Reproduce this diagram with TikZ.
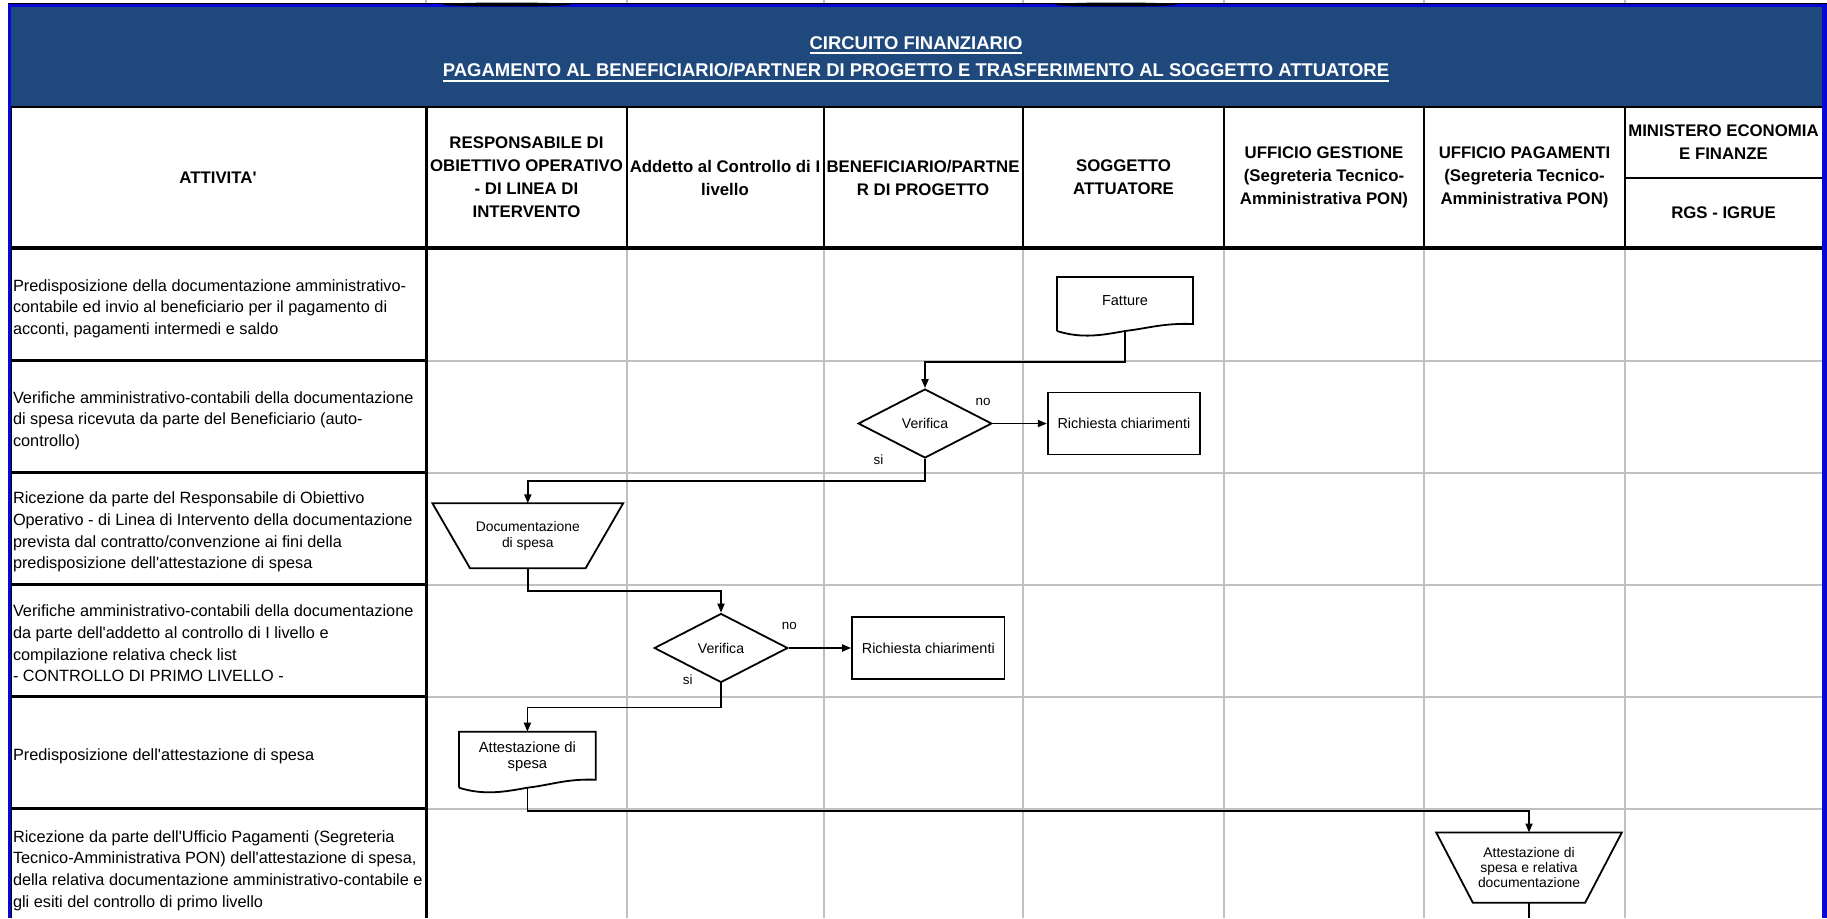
\documentclass[tikz,border=0pt]{standalone}
\usepackage{fontspec}
\setmainfont{Liberation Sans}[Ligatures=TeXOff]
\usetikzlibrary{arrows.meta,shapes.geometric,calc}
\definecolor{band}{RGB}{31,73,125}
\definecolor{edgeblue}{RGB}{8,8,214}
\definecolor{cellgrid}{RGB}{192,192,192}
% underlined title text with a heavier rule than \underline
\newcommand\titleul[1]{\setbox0\hbox{#1}\rlap{\rule[-5pt]{\wd0}{1.9pt}}\box0}

\begin{document}
\begin{tikzpicture}[x=1pt,y=-1pt,
  gridline/.style={draw=cellgrid,line width=2pt},
  blackrule/.style={draw=black,line width=3pt},
  hdr/.style={font=\fontsize{16.8}{23}\selectfont\bfseries,align=center,inner sep=0pt,outer sep=0pt},
  act/.style={font=\fontsize{16.3}{21.6}\selectfont,align=left,anchor=west,inner sep=0pt,outer sep=0pt},
  ttl/.style={font=\fontsize{18.45}{22}\selectfont\bfseries,text=white,anchor=base,inner sep=0pt},
  shapeline/.style={draw=black,line width=1.8pt,line join=miter},
  holder/.style={inner sep=0pt,outer sep=0pt,align=center},
  boxnode/.style={draw=black,line width=1.8pt,fill=white,inner sep=0pt,align=center,
    font=\fontsize{14.4}{17}\selectfont,minimum width=152.5pt,minimum height=62pt},
  decision/.style={diamond,draw=black,line width=1.8pt,fill=white,inner sep=0pt,
    font=\fontsize{14.1}{17}\selectfont,minimum width=133.6pt,minimum height=69pt},
  branch/.style={font=\fontsize{13.4}{15}\selectfont,inner sep=0pt},
  conn/.style={draw=black,line width=1.8pt,-{Triangle[length=9pt,width=7pt]}},
  link/.style={draw=black,line width=1.8pt}
]
\useasboundingbox (0,0) rectangle (1827,918);
\fill[white] (0,0) rectangle (1827,918);

% ---- title band ----
\fill[band] (10,6) rectangle (1822,107);
\foreach \cx in {426,627,823.5,1023,1224,1424,1625}
  \draw[gridline] (\cx,0) -- (\cx,4);
\draw[black,line width=1.5pt] (8,3.5) -- (1827,3.5);
\draw[edgeblue,line width=2.5pt] (8,5.5) -- (1822,5.5);
\fill[black] (507,4.5) ellipse [x radius=64, y radius=2];
\fill[black] (1116,4.5) ellipse [x radius=61, y radius=2];
\draw[black,line width=2pt] (10,107) -- (1822,107);

\node[ttl] (title1) at (916,49.3) {\titleul{CIRCUITO FINANZIARIO}};
\node[ttl] (title2) at (916,76.7) {\titleul{PAGAMENTO AL BENEFICIARIO/PARTNER DI PROGETTO E TRASFERIMENTO AL SOGGETTO ATTUATORE}};

% ---- body grid ----
\foreach \cx in {627,823.5,1023,1224,1424,1625}
  \draw[gridline] (\cx,248) -- (\cx,918);
\foreach \ry in {360.5,472.5,584.5,696.5,808.5}{
  \draw[gridline] (426,\ry) -- (1822,\ry);
  \draw[blackrule] (10,\ry) -- (426,\ry);
}
% ---- header cells ----
\foreach \cx in {627,823.5,1023,1224,1424,1625}
  \draw[black,line width=2pt] (\cx,107) -- (\cx,248);
\draw[blackrule] (426,107) -- (426,918);
\draw[black,line width=2pt] (1625,178) -- (1822,178);
\draw[black,line width=4pt] (10,248) -- (1822,248);

% ---- outer frame ----
\draw[black,line width=1.5pt] (11.5,107) -- (11.5,918);
\draw[edgeblue,line width=3pt] (9.5,4) -- (9.5,918);
\fill[edgeblue] (1822,4) rectangle (1827,918);

% ---- column headings ----
\node[hdr] (hAtt) at (218,177.5) {ATTIVITA'};
\node[hdr] (hResp) at (526.5,177.5) {RESPONSABILE DI\\OBIETTIVO OPERATIVO\\- DI LINEA DI\\INTERVENTO};
\node[hdr] (hAdd) at (725,177.5) {Addetto al Controllo di I\\livello};
\node[hdr] (hBen) at (923,177.5) {BENEFICIARIO/PARTNE\\R DI PROGETTO};
\node[hdr] (hSog) at (1123.5,177.5) {SOGGETTO\\ATTUATORE};
\node[hdr] (hUG) at (1324,177.5) {UFFICIO GESTIONE\\(Segreteria Tecnico-\\Amministrativa PON)};
\node[hdr] (hUP) at (1524.5,177.5) {UFFICIO PAGAMENTI\\(Segreteria Tecnico-\\Amministrativa PON)};
\node[hdr] (hMin) at (1723.5,142.5) {MINISTERO ECONOMIA\\E FINANZE};
\node[hdr] (hRgs) at (1723.5,213) {RGS - IGRUE};

% ---- activities ----
\node[act] (a1) at (13,308.5) {Predisposizione della documentazione amministrativo-\\contabile ed invio al beneficiario per il pagamento di\\acconti, pagamenti intermedi e saldo};
\node[act] (a2) at (13,420.5) {Verifiche amministrativo-contabili della documentazione\\di spesa ricevuta da parte del Beneficiario (auto-\\controllo)};
\node[act] (a3) at (13,532) {Ricezione da parte del Responsabile di Obiettivo\\Operativo - di Linea di Intervento della documentazione\\prevista dal contratto/convenzione ai fini della\\predisposizione dell'attestazione di spesa};
\node[act] (a4) at (13,643.5) {Verifiche amministrativo-contabili della documentazione\\da parte dell'addetto al controllo di I livello e\\compilazione relativa check list\\- CONTROLLO DI PRIMO LIVELLO -};
\node[act] (a5) at (13,756.5) {Predisposizione dell'attestazione di spesa};
\node[act] (a6) at (13,870.5) {Ricezione da parte dell'Ufficio Pagamenti (Segreteria\\Tecnico-Amministrativa PON) dell'attestazione di spesa,\\della relativa documentazione amministrativo-contabile e\\gli esiti del controllo di primo livello};

% ---- flow shapes ----
% document: Fatture
\node[holder,font=\fontsize{14.5}{17}\selectfont,text depth=6pt,
  minimum width=136pt,minimum height=54pt] (fatt) at (1125,304) {Fatture};
\draw[shapeline] (fatt.south west) -- (fatt.north west) -- (fatt.north east)
  -- ($(fatt.south east)+(0,-7)$)
  .. controls ($(fatt.south east)+(-30,-8)$) and ($(fatt.south)+(25,-3)$) .. (fatt.south)
  .. controls ($(fatt.south)+(-22,4)$) and ($(fatt.south west)+(25,8)$) .. (fatt.south west);

\node[decision] (ver1) at (925,423.5) {Verifica};
\node[boxnode] (rc1) at (1124,423.5) {Richiesta chiarimenti};

% manual input: Documentazione di spesa
\node[holder,font=\fontsize{13.85}{16.7}\selectfont,
  minimum width=190.7pt,minimum height=65pt] (doc) at (527.8,535.8) {Documentazione\\di spesa};
\draw[shapeline] (doc.north west) -- (doc.north east) -- ($(doc.south east)+(-37.6,0)$)
  -- ($(doc.south west)+(37.6,0)$) -- cycle;

\node[decision] (ver2) at (721,648) {Verifica};
\node[boxnode] (rc2) at (928.3,648) {Richiesta chiarimenti};

% document: Attestazione di spesa
\node[holder,font=\fontsize{14.8}{15.7}\selectfont,text depth=9.7pt,
  minimum width=136.7pt,minimum height=56pt] (att) at (527.4,759.7) {Attestazione di\\spesa};
\draw[shapeline] (att.south west) -- (att.north west) -- (att.north east)
  -- ($(att.south east)+(0,-8)$)
  .. controls ($(att.south east)+(-30,-9)$) and ($(att.south)+(25,-3)$) .. (att.south)
  .. controls ($(att.south)+(-22,4)$) and ($(att.south west)+(25,8)$) .. (att.south west);

% manual input: Attestazione di spesa e relativa documentazione
\node[holder,font=\fontsize{13.9}{15}\selectfont,
  minimum width=185.6pt,minimum height=70.2pt] (tr) at (1529,867.6) {Attestazione di\\spesa e relativa\\documentazione};
\draw[shapeline] (tr.north west) -- (tr.north east) -- ($(tr.south east)+(-36.65,0)$)
  -- ($(tr.south west)+(36.65,0)$) -- cycle;

% ---- branch labels ----
\node[branch] (no1) at (983,401.5) {no};
\node[branch] (si1) at (878.5,460) {si};
\node[branch] (no2) at (789.3,626) {no};
\node[branch] (si2) at (687.8,680) {si};

% ---- connectors ----
\draw[conn] (fatt.south) -- ++(0,31) -| (ver1.north);
\draw[conn] (ver1.east) -- (rc1.west);
\draw[conn] (ver1.south) -- ++(0,22) -| (doc.north);
\draw[conn] (doc.south) -- ++(0,22.7) -| (ver2.north);
\draw[conn] (ver2.east) -- (rc2.west);
\draw[conn] (ver2.south) -- ++(0,24) -| (att.north);
\draw[conn] (att.south) -- ++(0,23) -| (tr.north);
\coordinate (onward) at (1529,918);
\draw[link] (tr.south) -- (onward);
\end{tikzpicture}
\end{document}
